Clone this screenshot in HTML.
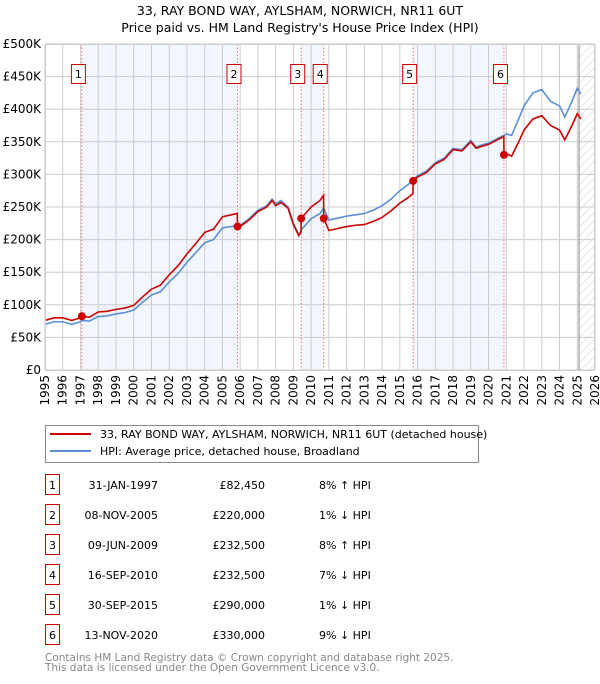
<!DOCTYPE html>
<html><head><meta charset="utf-8"><style>
body{margin:0;background:#fff;font-family:"DejaVu Sans","Liberation Sans",sans-serif;}
svg text{font-family:"DejaVu Sans","Liberation Sans",sans-serif;}
</style></head><body>
<svg id="c" width="600" height="680" viewBox="0 0 600 680" xmlns="http://www.w3.org/2000/svg">
<defs><pattern id="hatch" width="6" height="6" patternUnits="userSpaceOnUse" patternTransform="rotate(45)"><line x1="0" y1="0" x2="0" y2="6" stroke="#ccc" stroke-width="1"/></pattern></defs>
<text x="300" y="15" text-anchor="middle" font-size="12.5" fill="#000">33, RAY BOND WAY, AYLSHAM, NORWICH, NR11 6UT</text>
<text x="300" y="32" text-anchor="middle" font-size="12.5" fill="#000">Price paid vs. HM Land Registry's House Price Index (HPI)</text>
<g id="plot"></g>
<g>
<rect x="45.5" y="425.5" width="433" height="37" fill="#fff" stroke="#888"/>
<line x1="50" y1="434" x2="91" y2="434" stroke="#cc0000" stroke-width="2"/>
<text x="100" y="438" font-size="11">33, RAY BOND WAY, AYLSHAM, NORWICH, NR11 6UT (detached house)</text>
<line x1="50" y1="451" x2="91" y2="451" stroke="#5b8fd6" stroke-width="2"/>
<text x="100" y="455" font-size="11">HPI: Average price, detached house, Broadland</text>
</g>
<g id="table"></g>
<text x="45" y="661" font-size="10.5" fill="#888">Contains HM Land Registry data © Crown copyright and database right 2025.</text>
<text x="45" y="671" font-size="10.5" fill="#888">This data is licensed under the Open Government Licence v3.0.</text>
</svg>
<script>
const years=[1995.0,1995.5,1996.0,1996.5,1997.0,1997.08,1997.5,1998.0,1998.5,1999.0,1999.5,2000.0,2000.5,2001.0,2001.5,2002.0,2002.5,2003.0,2003.5,2004.0,2004.5,2005.0,2005.5,2005.84,2005.85,2006.0,2006.5,2007.0,2007.5,2007.8,2008.0,2008.3,2008.7,2009.0,2009.3,2009.43,2009.44,2010.0,2010.5,2010.70,2010.71,2011.0,2011.5,2012.0,2012.5,2013.0,2013.5,2014.0,2014.5,2015.0,2015.5,2015.74,2015.75,2016.0,2016.5,2017.0,2017.5,2018.0,2018.5,2019.0,2019.3,2019.6,2020.0,2020.5,2020.86,2020.87,2021.0,2021.3,2021.7,2022.0,2022.5,2023.0,2023.5,2024.0,2024.3,2024.7,2025.0,2025.2];
const hpiValues=[70,74,74,70,74,76,75,82,83,86,88,92,104,115,120,135,148,165,180,195,200,218,220,222,222,222,232,245,252,262,255,260,250,225,208,213,215,232,240,248,248,230,233,236,238,240,245,252,262,275,285,292,292,298,305,318,325,340,338,352,342,345,348,355,360,360,362,360,385,405,425,430,412,405,388,412,432,423];
const propertyValues=[76,80,80,76,80,82.45,81,89,90,93,95,99,112,124,130,146,160,178,194,211,216,235,238,240,220,220,230,243,250,260,252,257,248,223,206,211,232.5,250,260,268,232.5,214,217,220,222,223,228,234,244,256,265,271,290,296,303,316,323,338,336,350,340,343,346,353,358,330,332,328,350,368,385,390,375,368,353,375,393,385];
const saleYears=[1997.08,2005.85,2009.44,2010.71,2015.75,2020.87];
const salePrices=[82.45,220,232.5,232.5,290,330];
const saleDates=["31-JAN-1997","08-NOV-2005","09-JUN-2009","16-SEP-2010","30-SEP-2015","13-NOV-2020"];
const salePriceLabels=["£82,450","£220,000","£232,500","£232,500","£290,000","£330,000"];
const saleHpiLabels=["8% ↑ HPI","1% ↓ HPI","8% ↑ HPI","7% ↓ HPI","1% ↓ HPI","9% ↓ HPI"];
const yTicks=[0,50,100,150,200,250,300,350,400,450,500];
const yTickLabels=["£0","£50K","£100K","£150K","£200K","£250K","£300K","£350K","£400K","£450K","£500K"];
const xTicks=[1995,1996,1997,1998,1999,2000,2001,2002,2003,2004,2005,2006,2007,2008,2009,2010,2011,2012,2013,2014,2015,2016,2017,2018,2019,2020,2021,2022,2023,2024,2025,2026];

const X0=45,X1=595,Y0=370,Y1=44,XMIN=1995,XMAX=2026,YMAX=500;
const xs=v=>X0+(v-XMIN)/(XMAX-XMIN)*(X1-X0);
const ys=v=>Y0-v/YMAX*(Y0-Y1);
const NS="http://www.w3.org/2000/svg";
const plot=document.getElementById('plot');
function mk(tag,attrs,parent){const e=document.createElementNS(NS,tag);for(const k in attrs)e.setAttribute(k,attrs[k]);(parent||plot).appendChild(e);return e;}

for(let i=0;i+1<saleYears.length;i+=2){
  const r=mk('rect',{x:xs(saleYears[i]),y:Y1,width:xs(saleYears[i+1])-xs(saleYears[i]),height:Y0-Y1,fill:'#f2f6fe'});
  
  
}
const hz=mk('rect',{x:xs(2025.1),y:Y1,width:X1-xs(2025.1),height:Y0-Y1,fill:'url(#hatch)'});


yTicks.forEach((t,i)=>{
  const l=mk('line',{x1:X0,x2:X1,y1:ys(t),y2:ys(t),stroke:'#cccccc','stroke-width':1});
  
  
  const tx=mk('text',{x:X0-4,y:ys(t)+4,'text-anchor':'end','font-size':'12',fill:'#000'});
  
  
  tx.textContent=yTickLabels[i];
});
xTicks.forEach(t=>{
  const l=mk('line',{x1:xs(t),x2:xs(t),y1:Y1,y2:Y0,stroke:'#cccccc','stroke-width':1});
  
  
  const tx=mk('text',{x:0,y:0,'text-anchor':'end','font-size':'12',fill:'#000',transform:`translate(${xs(t)+4},375) rotate(-90)`});
  
  
  tx.textContent=t;
});
const vl=mk('line',{x1:xs(2025.1),x2:xs(2025.1),y1:Y1,y2:Y0,stroke:'#888','stroke-width':1});


saleYears.forEach((s,i)=>{
  const l=mk('line',{x1:xs(s),x2:xs(s),y1:Y1,y2:Y0,stroke:'#f07070','stroke-width':1,'stroke-dasharray':'1.5,2'});
  
  
});
const hp=mk('polyline',{points:years.map((y,i)=>xs(y)+','+ys(hpiValues[i])).join(' '),fill:'none',stroke:'#5b8fd6','stroke-width':1.6});


const pp=mk('polyline',{points:years.map((y,i)=>xs(y)+','+ys(propertyValues[i])).join(' '),fill:'none',stroke:'#cc0000','stroke-width':1.6});


saleYears.forEach((s,i)=>{
  const c=mk('circle',{cx:xs(s),cy:ys(salePrices[i]),r:4,fill:'#cc0000'});
  
  
  const g=mk('g',{});
  
  
  mk('rect',{x:xs(s)-10.5,y:64.5,width:14,height:19,fill:'#fff',stroke:'#cc0000'},g);
  const t=mk('text',{x:xs(s)-3.5,y:78,'text-anchor':'middle','font-size':'11'},g);
  t.textContent=i+1;
});
const border=mk('rect',{x:X0+0.5,y:Y1+0.5,width:X1-X0-1,height:Y0-Y1,fill:'none',stroke:'#cccccc'});


const tb=document.getElementById('table');
saleDates.forEach((d,i)=>{
  const y=487+i*30;
  const row=mk('g',{},tb);
  
  
  mk('rect',{x:45.5,y:y-12.5,width:14,height:20,fill:'#fff',stroke:'#cc0000'},row);
  const n=mk('text',{x:52.5,y:y+2,'text-anchor':'middle','font-size':'11'},row);n.textContent=i+1;
  const a=mk('text',{x:158,y:y+2,'text-anchor':'end','font-size':'11'},row);a.textContent=d;
  const b=mk('text',{x:265,y:y+2,'text-anchor':'end','font-size':'11'},row);b.textContent=salePriceLabels[i];
  const c=mk('text',{x:319,y:y+2,'font-size':'11'},row);c.textContent=saleHpiLabels[i];
});
</script>
</body></html>
